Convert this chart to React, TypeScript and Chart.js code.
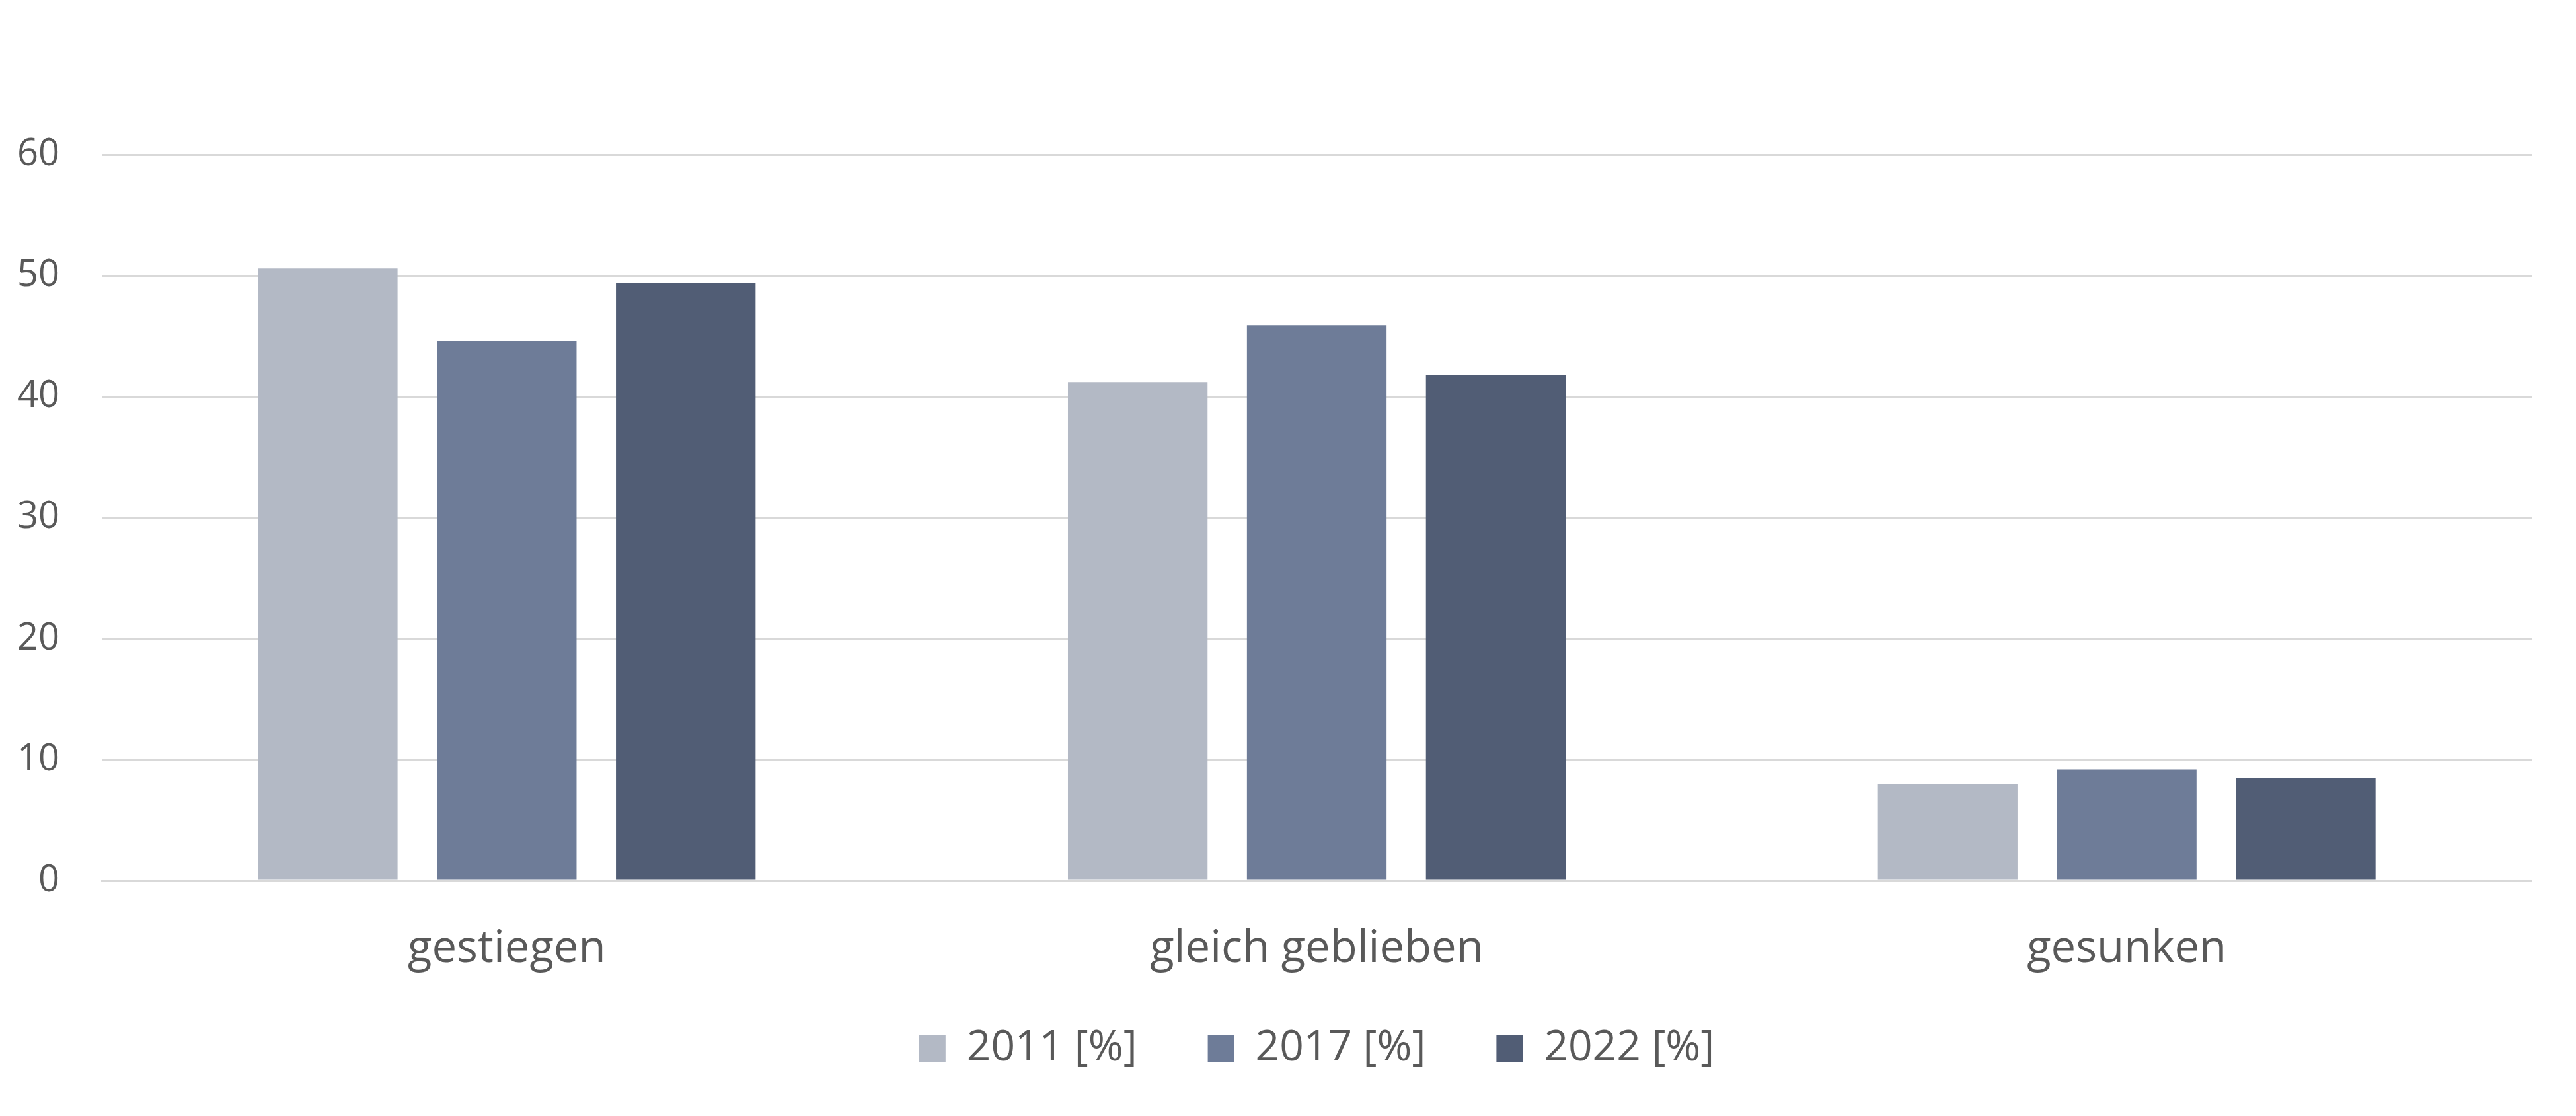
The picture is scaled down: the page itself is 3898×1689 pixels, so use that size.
import React, { useEffect, useRef } from 'react';
import { Chart, registerables } from 'chart.js';

Chart.register(...registerables);

const categories = ['gestiegen', 'gleich geblieben', 'gesunken'];
const seriesLabels = ['2011 [%]', '2017 [%]', '2022 [%]'];
const values2011 = [50.6, 41.2, 8.0];
const values2017 = [44.6, 45.9, 9.2];
const values2022 = [49.4, 41.8, 8.5];
const seriesColors = ['#B3B9C5', '#6E7C98', '#515D75'];
const yMax = 60;
const yStep = 10;

const FONT = "'Open Sans', 'Noto Sans', sans-serif";
const TEXT = '#595959';
const GRID = '#D9D9D9';

export default function App() {
  const ref = useRef<HTMLCanvasElement | null>(null);

  useEffect(() => {
    if (!ref.current) return;
    const chart = new Chart(ref.current, {
      type: 'bar',
      data: {
        labels: categories,
        datasets: [values2011, values2017, values2022].map((v, i) => ({
          label: seriesLabels[i],
          data: v,
          backgroundColor: seriesColors[i],
          borderWidth: 0,
          categoryPercentage: 0.663,
          barPercentage: 0.78,
        })),
      },
      options: {
        animation: false,
        responsive: true,
        maintainAspectRatio: false,
        layout: { padding: { left: 0, right: 67, top: 234, bottom: 60 } },
        plugins: {
          tooltip: { enabled: false },
          legend: {
            position: 'bottom',
            fullSize: false,
            labels: {
              boxWidth: 40,
              boxHeight: 40,
              padding: 107,
              color: TEXT,
              font: { family: FONT, size: 64 },
            },
          },
        },
        scales: {
          x: {
            grid: { display: false, drawTicks: false },
            border: { display: true, color: GRID, width: 3 },
            ticks: {
              color: TEXT,
              padding: 64,
              font: { family: FONT, size: 67 },
            },
            afterFit: (scale: any) => {
              scale.height = 115;
              scale._computeLabelArea = () => undefined;
            },
          },
          y: {
            min: 0,
            max: yMax,
            border: { display: false },
            grid: { color: GRID, lineWidth: 3, drawTicks: false },
            ticks: {
              stepSize: yStep,
              color: TEXT,
              padding: 64,
              font: { family: FONT, size: 56 },
            },
            afterFit: (scale: any) => {
              scale.width = 154;
            },
          },
        },
      },
    });
    return () => chart.destroy();
  }, []);

  return (
    <div style={{ position: 'fixed', left: 0, top: 0, width: 3898, height: 1689, background: '#fff' }}>
      <canvas ref={ref} />
    </div>
  );
}
